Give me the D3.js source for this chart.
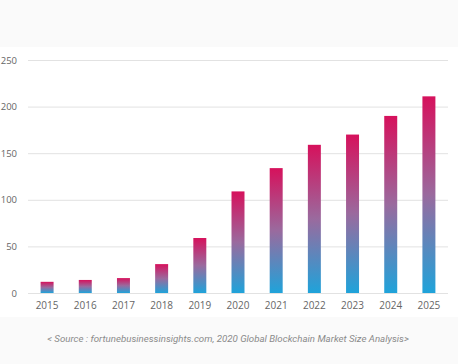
<!DOCTYPE html>
<html>
<head>
<meta charset="utf-8">
<script src="https://cdn.jsdelivr.net/npm/d3@7"></script>
<style>
  html, body { margin: 0; padding: 0; background: #ffffff; }
  svg { display: block; }
</style>
</head>
<body>
<svg id="chart" width="458" height="364"></svg>
<script>
const years = ["2015","2016","2017","2018","2019","2020","2021","2022","2023","2024","2025"];
const values = [12, 14, 16, 31, 59, 109, 134, 159, 170, 190, 211];
const yTicks = [0, 50, 100, 150, 200, 250];
const sourceText = "< Source : fortunebusinessinsights.com, 2020 Global Blockchain Market Size Analysis>";

const W = 458, H = 364;
const svg = d3.select("#chart");

// background bands
svg.append("rect").attr("x", 0).attr("y", 0).attr("width", W).attr("height", 47).attr("fill", "#fafafa");
svg.append("rect").attr("x", 0).attr("y", 317).attr("width", W).attr("height", H - 317).attr("fill", "#fafafa");

const x = d3.scaleBand().domain(years).range([28, 448]).paddingInner(0.66).paddingOuter(0.33);
const y = d3.scaleLinear().domain([0, 250]).range([293, 60]);

const defs = svg.append("defs");
const grad = defs.append("linearGradient").attr("id", "barGrad")
  .attr("x1", 0).attr("y1", 0).attr("x2", 0).attr("y2", 1);
grad.append("stop").attr("offset", "0%").attr("stop-color", "#d6115c");
grad.append("stop").attr("offset", "50%").attr("stop-color", "#9a6a9e");
grad.append("stop").attr("offset", "100%").attr("stop-color", "#1fa3da");

// grid + y labels
const yAxis = d3.axisLeft(y).tickValues(yTicks).tickSize(-420).tickPadding(11);
const gy = svg.append("g").attr("transform", "translate(28,0)").call(yAxis);
gy.select(".domain").remove();
gy.selectAll(".tick line").attr("stroke", "#e2e2e2").attr("stroke-width", 1);
gy.selectAll(".tick text").attr("fill", "#666").attr("font-size", 9.5)
  .attr("font-family", "'Open Sans', sans-serif");

// bars
svg.append("g").selectAll("rect").data(values).join("rect")
  .attr("x", (d, i) => x(years[i]))
  .attr("width", x.bandwidth())
  .attr("y", d => y(d))
  .attr("height", d => y(0) - y(d))
  .attr("fill", "url(#barGrad)");

// x labels
const xAxis = d3.axisBottom(x).tickSize(0).tickPadding(9);
const gx = svg.append("g").attr("transform", "translate(0,293)").call(xAxis);
gx.select(".domain").remove();
gx.selectAll(".tick text").attr("fill", "#666").attr("font-size", 10)
  .attr("font-family", "'Open Sans', sans-serif");

// source
svg.append("text").attr("x", 228).attr("y", 342).attr("text-anchor", "middle")
  .attr("font-family", "Roboto, sans-serif").attr("font-style", "italic")
  .attr("font-size", 9.7).attr("fill", "#8a8a8a").text(sourceText);
</script>
</body>
</html>
